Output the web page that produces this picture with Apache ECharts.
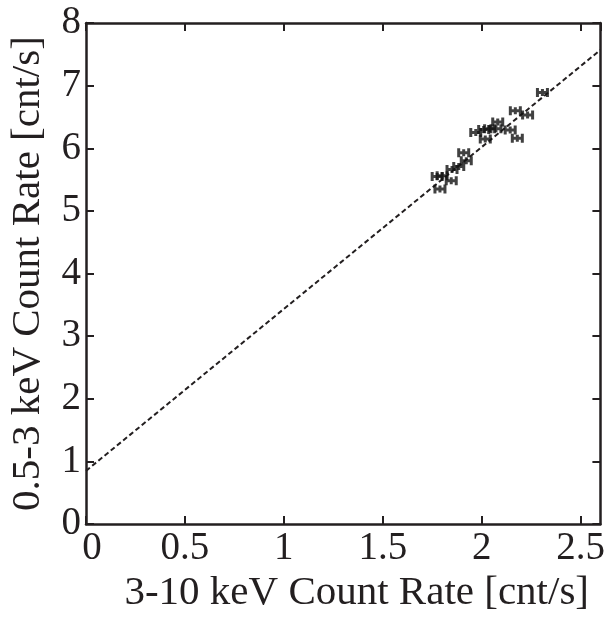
<!DOCTYPE html>
<html>
<head>
<meta charset="utf-8">
<script src="https://cdn.jsdelivr.net/npm/echarts@6/dist/echarts.min.js"></script>
<style>
	html, body { margin: 0; padding: 0; background: #fff; }
	#main { width: 608px; height: 619px; }
</style>
</head>
<body>
<div id="main"></div>
<script>
// 3-10 keV rate (x) vs 0.5-3 keV rate (y)
var hardRate = [2.307, 2.170, 2.232, 2.081, 2.144, 2.180, 1.970, 2.010, 2.040, 2.072, 2.018,
	1.909, 1.922, 1.884, 1.850, 1.775, 1.800, 1.846, 1.789];
var softRate = [6.89, 6.60, 6.53, 6.42, 6.29, 6.16, 6.25, 6.30, 6.31, 6.31, 6.15,
	5.93, 5.80, 5.71, 5.66, 5.55, 5.56, 5.48, 5.35];
// dashed fit line end points
var fitX = [0, 2.6];
var fitY = [0.85, 7.57];
var xTicks = [0, 0.5, 1, 1.5, 2, 2.5];
var yTicks = [0, 1, 2, 3, 4, 5, 6, 7, 8];

var ink = '#231f20';
var font = 'Liberation Serif';

var points = [];
for (var i = 0; i < hardRate.length; i++) {
	points.push([hardRate[i], softRate[i]]);
}
var fitData = [];
for (var j = 0; j < fitX.length; j++) {
	fitData.push([fitX[j], fitY[j]]);
}

// error bar like marker |-|-|
var markPath = 'path://M0,0h3v9h-3z M10,0h3v9h-3z M0,3h13v3h-13z M5,1h3v7h-3z';

var axisBase = {
	min: 0,
	axisLine: { show: true, onZero: false, lineStyle: { color: ink, width: 2.5 } },
	axisTick: { show: true, inside: true, length: 8, lineStyle: { color: ink, width: 2 } },
	splitLine: { show: false }
};

var chart = echarts.init(document.getElementById('main'));
chart.setOption({
	animation: false,
	backgroundColor: '#fff',
	grid: { left: 86, right: 6, top: 23, bottom: 89 },
	xAxis: [
		echarts.util.merge({
			type: 'value', max: 2.6, interval: 0.5, position: 'bottom',
			axisLabel: {
				color: ink, fontFamily: font, fontSize: 39, margin: 5,
				showMaxLabel: false,
				formatter: function(v) {
					if (v === 0) return '{z|0}';
					return xTicks.indexOf(v) > -1 ? String(v) : '';
				},
				rich: {
					z: { color: ink, fontFamily: font, fontSize: 39, padding: [0, 0, 0, 12] }
				}
			},
			name: '3-10 keV Count Rate [cnt/s]',
			nameLocation: 'middle', nameGap: 44,
			nameTextStyle: { color: ink, fontFamily: font, fontSize: 41, padding: [0, 0, 0, 27] }
		}, axisBase, true),
		echarts.util.merge({
			type: 'value', max: 2.6, interval: 0.5, position: 'top',
			axisLabel: { show: false }
		}, axisBase, true)
	],
	yAxis: [
		echarts.util.merge({
			type: 'value', max: 8, interval: 1, position: 'left',
			axisLabel: {
				color: ink, fontFamily: font, fontSize: 39, margin: 5,
				formatter: function(v) { return yTicks.indexOf(v) > -1 ? String(v) : ''; }
			},
			name: '0.5-3 keV Count Rate [cnt/s]',
			nameLocation: 'middle', nameGap: 37, nameRotate: 90,
			nameTextStyle: { color: ink, fontFamily: font, fontSize: 41 }
		}, axisBase, true),
		echarts.util.merge({
			type: 'value', max: 8, interval: 1, position: 'right',
			axisLabel: { show: false }
		}, axisBase, true)
	],
	series: [{
		type: 'line',
		data: fitData,
		showSymbol: false,
		lineStyle: { color: ink, width: 2, type: [5, 3] },
		z: 2
	}, {
		type: 'scatter',
		data: points,
		symbol: markPath,
		symbolSize: [13, 9],
		itemStyle: { color: '#111' },
		z: 3
	}]
});
</script>
</body>
</html>
